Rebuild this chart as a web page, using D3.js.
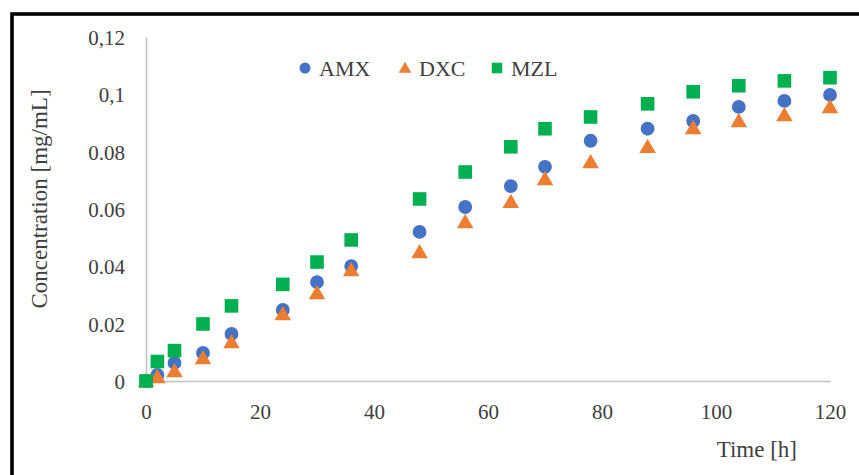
<!DOCTYPE html>
<html>
<head>
<meta charset="utf-8">
<script src="https://cdn.jsdelivr.net/npm/d3@7"></script>
<style>
  html, body { margin: 0; padding: 0; background: #fff; }
  svg { display: block; }
  text { font-family: "Liberation Serif", "Times New Roman", serif; fill: #404040; }
</style>
</head>
<body>
<svg id="chart" width="859" height="475"></svg>
<script>
// Release time points (hours)
const times = [0, 2, 5, 10, 15, 24, 30, 36, 48, 56, 64, 70, 78, 88, 96, 104, 112, 120];

// Concentration (mg/mL) per drug
const amx = [0, 0.0021, 0.0063, 0.0098, 0.0164, 0.0248, 0.0345, 0.0401, 0.0520, 0.0607, 0.0680, 0.0747, 0.0838, 0.0880, 0.0907, 0.0956, 0.0977, 0.0998];
const dxc = [0, 0.0014, 0.0035, 0.0080, 0.0136, 0.0234, 0.0307, 0.0387, 0.0450, 0.0555, 0.0625, 0.0705, 0.0764, 0.0817, 0.0883, 0.0907, 0.0928, 0.0956];
const mzl = [0, 0.0068, 0.0106, 0.0199, 0.0262, 0.0337, 0.0415, 0.0492, 0.0635, 0.0729, 0.0817, 0.0880, 0.0921, 0.0967, 0.1009, 0.1030, 0.1047, 0.1058];

const seriesNames = ["AMX", "DXC", "MZL"];
const seriesColors = ["#4472C4", "#ED7D31", "#00B050"];

const xTicks = [0, 20, 40, 60, 80, 100, 120];
const yTicks = [0, 0.02, 0.04, 0.06, 0.08, 0.1, 0.12];
const yTickLabels = ["0", "0.02", "0.04", "0.06", "0.08", "0,1", "0,12"];

const svg = d3.select("#chart");

// outer frame
svg.append("rect")
  .attr("x", 12).attr("y", 14)
  .attr("width", 900).attr("height", 520)
  .attr("fill", "none")
  .attr("stroke", "#000")
  .attr("stroke-width", 3.6);

const x = d3.scaleLinear().domain([0, 120]).range([146, 830]);
const y = d3.scaleLinear().domain([0, 0.12]).range([381, 37]);

// axes
const xAxis = d3.axisBottom(x).tickValues(xTicks).tickSize(0).tickPadding(0).tickFormat(d3.format("d"));
const gx = svg.append("g").attr("transform", `translate(0,${y(0)})`).call(xAxis);
gx.select(".domain").attr("stroke", "#bfbfbf").attr("stroke-width", 1.5);
gx.selectAll("text")
  .attr("dy", null).attr("y", 38)
  .style("font-size", "21px")
  .style("font-family", "'Liberation Serif', serif")
  .attr("fill", "#404040");

const yAxis = d3.axisLeft(y).tickValues(yTicks).tickSize(0).tickPadding(0)
  .tickFormat((d, i) => yTickLabels[i]);
const gy = svg.append("g").attr("transform", `translate(${x(0)},0)`).call(yAxis);
gy.select(".domain").attr("stroke", "#bfbfbf").attr("stroke-width", 1.5);
gy.selectAll("text")
  .attr("x", -21).attr("dy", "0.35em")
  .style("font-size", "21px")
  .style("font-family", "'Liberation Serif', serif")
  .attr("fill", "#404040");

// axis titles
svg.append("text")
  .attr("transform", `translate(47,199) rotate(-90)`)
  .attr("text-anchor", "middle")
  .style("font-size", "23px")
  .text("Concentration [mg/mL]");

svg.append("text")
  .attr("x", 797).attr("y", 457)
  .attr("text-anchor", "end")
  .style("font-size", "23px")
  .text("Time [h]");

// markers
const symbols = [d3.symbolCircle, d3.symbolTriangle, d3.symbolSquare];
const sizes = [150, 118, 185];
const data = [amx, dxc, mzl];

data.forEach((vals, si) => {
  const sym = d3.symbol().type(symbols[si]).size(sizes[si]);
  svg.append("g").selectAll("path")
    .data(vals.map((v, i) => ({ t: times[i], v })))
    .join("path")
    .attr("d", sym)
    .attr("transform", d => `translate(${x(d.t)},${y(d.v) + (si === 1 ? 1.5 : 0)})`)
    .attr("fill", seriesColors[si]);
});

// legend
const legendX = [305, 405, 497];
const legendSizes = [95, 70, 110];
seriesNames.forEach((name, si) => {
  const g = svg.append("g").attr("transform", `translate(${legendX[si]},68)`);
  g.append("path")
    .attr("d", d3.symbol().type(symbols[si]).size(legendSizes[si])())
    .attr("transform", si === 1 ? "translate(0,1)" : null)
    .attr("fill", seriesColors[si]);
  g.append("text")
    .attr("x", 14).attr("y", 0).attr("dy", "0.35em")
    .style("font-size", "22px")
    .text(name);
});
</script>
</body>
</html>
